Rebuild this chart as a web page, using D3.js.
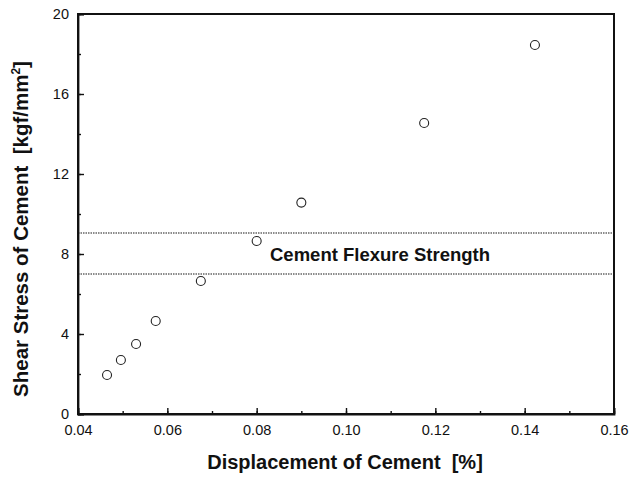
<!DOCTYPE html>
<html>
<head>
<meta charset="utf-8">
<script src="https://cdn.jsdelivr.net/npm/d3@7"></script>
<style>
	body { margin: 0; background: #fff; }
	text { font-family: Arial, "Liberation Sans", sans-serif; fill: #111; }
</style>
</head>
<body>
<svg id="chart" width="629" height="479"></svg>
<script>
// data
const displacement = [0.0465, 0.0496, 0.0530, 0.0574, 0.0675, 0.0800, 0.0900, 0.1175, 0.1423];
const shearStress = [1.95, 2.7, 3.5, 4.65, 6.65, 8.65, 10.57, 14.55, 18.45];
const flexureBand = [7.0, 9.05];
const xTicks = [0.04, 0.06, 0.08, 0.10, 0.12, 0.14, 0.16];
const yTicks = [0, 4, 8, 12, 16, 20];

const margin = {left: 78, top: 14, right: 15, bottom: 65};
const width = 629, height = 479;

const svg = d3.select('#chart');

const x = d3.scaleLinear().domain([0.04, 0.16]).range([margin.left, width - margin.right]);
const y = d3.scaleLinear().domain([0, 20]).range([height - margin.bottom, margin.top]);

// flexure strength band (dotted)
svg.append('g').selectAll('line').data(flexureBand).enter()
	.append('line')
	.attr('x1', x(0.04)).attr('x2', x(0.16))
	.attr('y1', d => y(d)).attr('y2', d => y(d))
	.attr('stroke', '#666')
	.attr('stroke-width', 1.3)
	.attr('stroke-dasharray', '1.5,1');

svg.append('text')
	.attr('x', 270)
	.attr('y', 261)
	.attr('font-size', 18.5)
	.attr('font-weight', 'bold')
	.text('Cement Flexure Strength');

// axes, ticks pointing inward
const minorX = d3.range(0.04, 0.1601, 0.01);
const minorY = d3.range(0, 20.01, 2);

const gx = svg.append('g').attr('transform', `translate(0,${y(0)})`);
gx.call(d3.axisBottom(x).tickValues(minorX).tickSize(-3).tickFormat(''));
gx.call(g => g.selectAll('.domain').remove());
const gx2 = svg.append('g').attr('transform', `translate(0,${y(0)})`)
	.call(d3.axisBottom(x).tickValues(xTicks).tickSize(-6).tickPadding(11).tickFormat(d3.format('.2f')));
gx2.selectAll('text').attr('font-size', 14.5).attr('font-family', 'Arial, "Liberation Sans", sans-serif');

const gy = svg.append('g').attr('transform', `translate(${x(0.04)},0)`);
gy.call(d3.axisLeft(y).tickValues(minorY).tickSize(-3).tickFormat(''));
gy.call(g => g.selectAll('.domain').remove());
const gy2 = svg.append('g').attr('transform', `translate(${x(0.04)},0)`)
	.call(d3.axisLeft(y).tickValues(yTicks).tickSize(-6).tickPadding(9).tickFormat(d3.format('d')));
gy2.selectAll('text').attr('font-size', 14.5).attr('font-family', 'Arial, "Liberation Sans", sans-serif');

svg.selectAll('.tick line').attr('stroke', '#111').attr('stroke-width', 1.4);
svg.selectAll('.domain').attr('stroke', '#111').attr('stroke-width', 1.8);

// frame
svg.append('rect')
	.attr('x', x(0.04)).attr('y', y(20))
	.attr('width', x(0.16) - x(0.04)).attr('height', y(0) - y(20))
	.attr('fill', 'none').attr('stroke', '#111').attr('stroke-width', 2);

// points
svg.append('g').selectAll('circle').data(displacement).enter()
	.append('circle')
	.attr('cx', d => x(d))
	.attr('cy', (d, i) => y(shearStress[i]))
	.attr('r', 4.5)
	.attr('fill', 'none')
	.attr('stroke', '#222')
	.attr('stroke-width', 1.1);

// axis titles
svg.append('text')
	.attr('x', 345)
	.attr('y', 469)
	.attr('text-anchor', 'middle')
	.attr('font-size', 20)
	.attr('font-weight', 'bold')
	.attr('xml:space', 'preserve')
	.text('Displacement of Cement  [%]');

const ytitle = svg.append('text')
	.attr('transform', 'translate(28,229) rotate(-90)')
	.attr('text-anchor', 'middle')
	.attr('font-size', 20.5)
	.attr('font-weight', 'bold')
	.attr('xml:space', 'preserve');
ytitle.append('tspan').text('Shear Stress of Cement  [kgf/mm');
ytitle.append('tspan').attr('font-size', 12).attr('dy', -8).text('2');
ytitle.append('tspan').attr('dy', 8).text(']');
</script>
</body>
</html>
